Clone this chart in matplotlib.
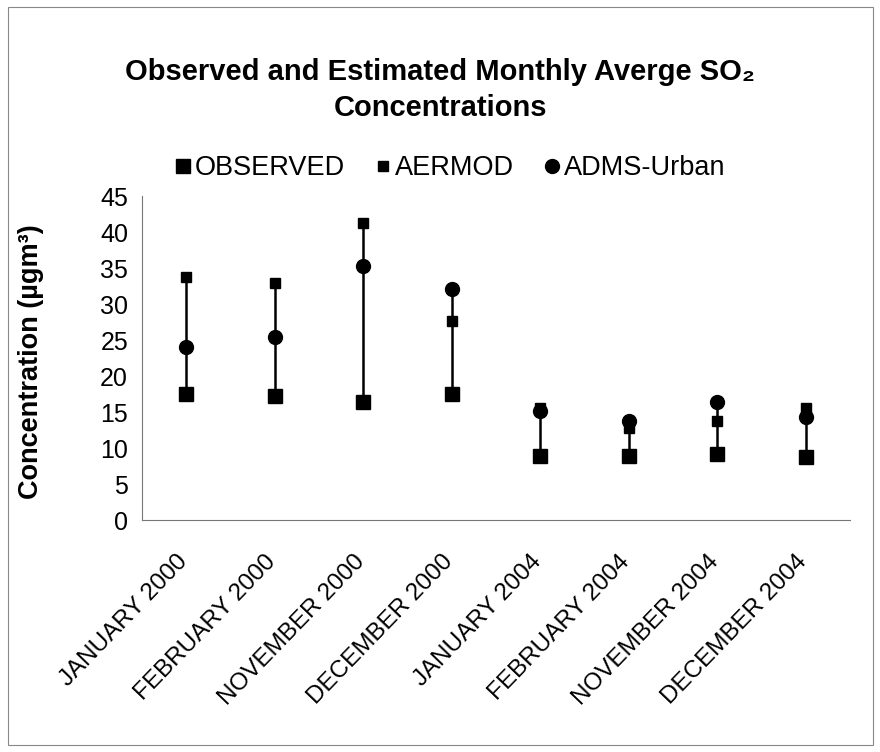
import matplotlib
matplotlib.use('Agg')
import matplotlib.pyplot as plt
from matplotlib.patches import Rectangle
from matplotlib.transforms import ScaledTranslation
import numpy as np

months = ["JANUARY 2000", "FEBRUARY 2000", "NOVEMBER 2000", "DECEMBER 2000",
          "JANUARY 2004", "FEBRUARY 2004", "NOVEMBER 2004", "DECEMBER 2004"]
observed = [17.5, 17.2, 16.4, 17.5, 8.9, 8.9, 9.2, 8.8]
aermod = [33.8, 32.9, 41.2, 27.6, 15.6, 12.8, 13.8, 15.6]
adms = [24.0, 25.4, 35.3, 32.1, 15.1, 13.7, 16.4, 14.3]
yticks = [0, 5, 10, 15, 20, 25, 30, 35, 40, 45]

plt.rcParams['font.family'] = ['Liberation Sans', 'DejaVu Sans']

fig = plt.figure(figsize=(8.8, 7.52), dpi=100)
ax = fig.add_axes([142 / 880, 1 - 520 / 752, (850 - 142) / 880, (520 - 196) / 752])

x = np.arange(len(months))
lo = np.minimum(np.minimum(observed, aermod), adms)
hi = np.maximum(np.maximum(observed, aermod), adms)
ax.vlines(x, lo, hi, color='black', linewidth=1.8, zorder=2)
ax.plot(x, observed, 's', color='black', markersize=10, label='OBSERVED', zorder=3)
ax.plot(x, aermod, 's', color='black', markersize=7, label='AERMOD', zorder=3)
ax.plot(x, adms, 'o', color='black', markersize=10, label='ADMS-Urban', zorder=4)

ax.set_xlim(-0.5, len(months) - 0.5)
ax.set_ylim(0, 45)
ax.set_yticks(yticks)
ax.set_yticklabels([str(t) for t in yticks], fontsize=18)
ax.set_xticks(x)
ax.set_xticklabels(months, rotation=46, ha='right', rotation_mode='anchor', fontsize=17.5)
ax.tick_params(axis='y', length=0, pad=10)
ax.tick_params(axis='x', length=0, pad=22)
shift = ScaledTranslation(-0.1, 0, fig.dpi_scale_trans)
for lab in ax.get_xticklabels():
    lab.set_transform(lab.get_transform() + shift)
for s in ['top', 'right']:
    ax.spines[s].set_visible(False)
for s in ['left', 'bottom']:
    ax.spines[s].set_color('#777777')
    ax.spines[s].set_linewidth(0.8)
    ax.spines[s].set_linestyle((0, (2, 1)))
ax.set_ylabel(u"Concentration (\u00b5gm\u00b3)", fontsize=19.5, fontweight='bold')
ax.yaxis.set_label_coords((44 - 142) / 708, 0.49)

fig.text(0.5, 1 - 72 / 752, u"Observed and Estimated Monthly Averge SO\u2082",
         ha='center', va='center', fontsize=21, fontweight='bold')
fig.text(0.5, 1 - 108 / 752, "Concentrations",
         ha='center', va='center', fontsize=21, fontweight='bold')

fig.legend(loc='center', bbox_to_anchor=(0.51, 1 - 168 / 752), ncol=3, frameon=False,
           fontsize=19.5, handletextpad=0.05, columnspacing=1.0, handlelength=0.8,
           numpoints=1)

fig.patches.append(Rectangle((8 / 880, 7 / 752), 865 / 880, 738 / 752,
                             transform=fig.transFigure, fill=False,
                             edgecolor='#888888', linewidth=0.8))

fig.savefig('out.png', dpi=100)
